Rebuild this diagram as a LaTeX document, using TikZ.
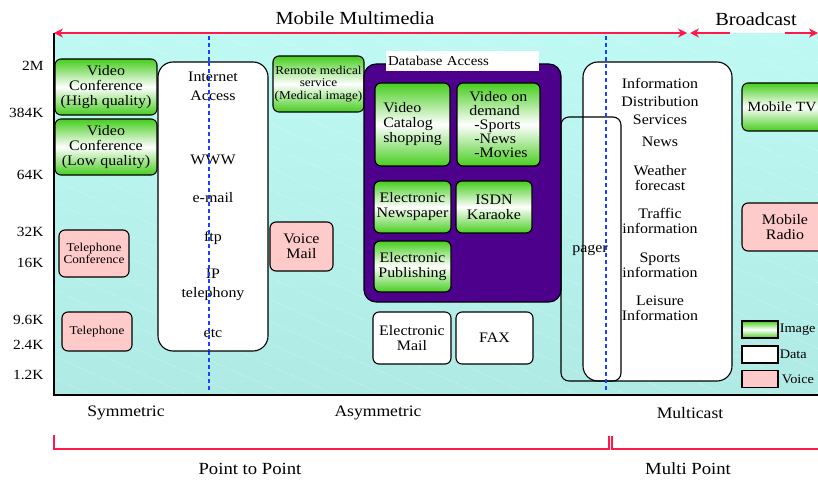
\documentclass[tikz,border=0pt]{standalone}
\usepackage{fontspec}
\setmainfont{Liberation Serif}[FakeStretch=1.1]
\usepackage{tikz}
\usetikzlibrary{arrows.meta,shapes,calc}
\definecolor{bgcyan}{RGB}{190,249,244}
\definecolor{bgcyandk}{RGB}{176,234,228}
\definecolor{imggreen}{RGB}{70,205,30}
\definecolor{voicepink}{RGB}{255,202,202}
\definecolor{dbpurple}{RGB}{76,0,140}
\definecolor{arrred}{RGB}{255,25,75}
\definecolor{divblue}{RGB}{25,65,255}
\newcommand\titlefnt{\fontsize{18.5}{20}\selectfont}
\newcommand\boxfnt{\fontsize{14.5}{15}\selectfont}
\newcommand\smallfnt{\fontsize{12}{12.5}\selectfont}
\newcommand\axisfnt{\fontsize{14}{15}\selectfont}
\tikzset{
 svcbox/.style={draw,line width=1.1pt,rounded corners=6pt,align=center,inner sep=1pt,font=\boxfnt},
 imgbox/.style={svcbox,top color=imggreen,bottom color=imggreen,middle color=white},
 databox/.style={svcbox,fill=white},
 voicebox/.style={svcbox,fill=voicepink},
 keybox/.style={draw,line width=1.1pt,minimum width=36,minimum height=17,inner sep=0pt},
 redline/.style={arrred,line width=1.2pt},
 redtip/.style={-{Stealth[length=9pt,width=9pt]}},
 divider/.style={divblue,line width=1.3pt,dash pattern=on 4pt off 3pt},
 streak/.style={white,opacity=.45,line width=.5pt,dash pattern=on 1.5pt off 1.5pt},
}
\begin{document}
\begin{tikzpicture}[x=1pt,y=-1pt]
\useasboundingbox(0,0)rectangle(818,481);
\clip(0,0)rectangle(818,481);
%background panel
\fill[top color=bgcyan,bottom color=bgcyandk](54,34)rectangle(830,395);
\begin{scope}
\clip(54,34)rectangle(830,395);
\foreach \s in {-360,-338,...,380}{
\draw[streak](54,34+\s)--(830,384+\s);
}
\end{scope}
\draw[line width=1.4pt](54,33)--(54,395)--(830,395);
%top arrows
\coordinate(mmL)at(54,33);
\coordinate(mmR)at(687,33);
\coordinate(bcL)at(690,33);
\coordinate(bcgapL)at(730,33);
\coordinate(bcgapR)at(785,33);
\coordinate(bcR)at(818,33);
\draw[redline,{Stealth[length=9pt,width=9pt]}-{Stealth[length=9pt,width=9pt]}](mmL)--(mmR);
\draw[redline,{Stealth[length=9pt,width=9pt]}-](bcL)--(bcgapL);
\draw[redline,redtip](bcgapR)--(bcR);
\node[font=\titlefnt](mmtitle)at(355,18){Mobile Multimedia};
\node[font=\titlefnt](bctitle)at(756,19){Broadcast};
%rate axis
\foreach \r/\y [count=\i] in {2M/66,384K/113,64K/175,32K/232,16K/263,9.6K/320,2.4K/345,1.2K/375}{
\node[font=\axisfnt,anchor=east](rate\i)at(47,\y){\r};
}
%dividers
\draw[divider](209,36)--(209,391);
\draw[divider](606,36)--(606,391);
%symmetric
\node[imgbox,minimum width=102,minimum height=56](vchq)at(106,87){Video\\Conference\\(High quality)};
\node[imgbox,minimum width=102,minimum height=56](vclq)at(106,147){Video\\Conference\\(Low quality)};
\node[voicebox,font=\smallfnt,minimum width=70,minimum height=47](telconf)at(94,253.5){Telephone\\Conference};
\node[voicebox,font=\smallfnt,minimum width=70,minimum height=39](tel)at(97,331.5){Telephone};
\node[databox,rounded corners=15pt,minimum width=110,minimum height=289](inet)at(213,206.5){};
\foreach \t/\y [count=\i] in {Internet/77,Access/96,WWW/160,e-mail/198,ftp/238,IP/274,telephony/294,etc/333}{
\node[font=\boxfnt](inet\i)at(213,\y){\t};
}
\draw[divider](209,62)--(209,351);
%asymmetric
\node[imgbox,font=\smallfnt,minimum width=91,minimum height=56](remote)at(318.5,84){Remote medical\\service\\(Medical image)};
\node[voicebox,minimum width=63,minimum height=49](vmail)at(301.5,246.5){Voice\\Mail};
\node[draw,line width=1.1pt,fill=dbpurple,rounded corners=12pt,minimum width=197,minimum height=238](dbase)at(462.5,183){};
\node[fill=white,font=\fontsize{13.5}{15}\selectfont,minimum width=153,minimum height=20,inner sep=0pt,text width=149](dblabel)at(462.5,61){Database Access};
\node[imgbox,align=left,minimum width=75,minimum height=83](vcat)at(412.5,124.5){Video\\Catalog\\shopping};
\node[imgbox,align=left,font=\fontsize{14.5}{14}\selectfont,minimum width=83,minimum height=83](vod)at(498.5,124.5){Video on\\demand\\\hspace{5pt}-Sports\\\hspace{5pt}-News\\\hspace{5pt}-Movies};
\node[imgbox,minimum width=77,minimum height=52](enews)at(412.5,207){Electronic\\Newspaper};
\node[imgbox,minimum width=76,minimum height=52](isdn)at(494,207){ISDN\\Karaoke};
\node[imgbox,minimum width=77,minimum height=51](epub)at(412.5,266.5){Electronic\\Publishing};
\node[databox,minimum width=78,minimum height=52](email)at(412,338){Electronic\\Mail};
\node[databox,minimum width=77,minimum height=52](fax)at(494.5,338){FAX};
%multicast
\node[databox,rounded corners=15pt,minimum width=149,minimum height=319](info)at(657.5,221.5){};
\node[draw,line width=1.1pt,rounded corners=8pt,minimum width=60,minimum height=264](pager)at(591,249){};
\draw[divider](606,36)--(606,391);
\node[font=\boxfnt](pagertxt)at(590,250){pager};
\node[font=\boxfnt,align=center](infotitle)at(660,101){Information\\[3pt]Distribution\\[3pt]Services};
\node[font=\boxfnt](news)at(660,142){News};
\node[font=\boxfnt,align=center](weather)at(660,178.5){Weather\\forecast};
\node[font=\boxfnt,align=center](traffic)at(660,221){Traffic\\information};
\node[font=\boxfnt,align=center](sports)at(660,265){Sports\\information};
\node[font=\boxfnt,align=center](leisure)at(660,308){Leisure\\Information};
%broadcast
\node[imgbox,font=\fontsize{14}{15}\selectfont,minimum width=86,minimum height=48](mtv)at(785,107){};
\node[font=\fontsize{14}{15}\selectfont,inner sep=0pt](mtvtxt)at(782,107){Mobile TV};
\node[voicebox,minimum width=86,minimum height=48](mradio)at(785,227){Mobile\\Radio};
%legend
\node[keybox,top color=imggreen,bottom color=imggreen,middle color=white](imgkey)at(760,329.5){};
\node[keybox,fill=white](datakey)at(760,354.5){};
\node[keybox,fill=voicepink](voicekey)at(760,379){};
\node[font=\fontsize{13}{14}\selectfont,anchor=west,inner sep=1pt](imglbl)at(imgkey.east){Image};
\node[font=\fontsize{13}{14}\selectfont,anchor=west,inner sep=1pt](datalbl)at(datakey.east){Data};
\node[font=\fontsize{13}{14}\selectfont,anchor=west,inner sep=3pt](voicelbl)at(voicekey.east){Voice};
%bottom labels
\node[font=\fontsize{16}{18}\selectfont](symm)at(126,413){Symmetric};
\node[font=\fontsize{16}{18}\selectfont](asymm)at(378,413){Asymmetric};
\node[font=\fontsize{16}{18}\selectfont](mcast)at(690,413){Multicast};
\draw[redline](54,435)--(54,449)--(609,449)--(609,436);
\draw[redline](612,436)--(612,449)--(830,449);
\node[font=\fontsize{17}{19}\selectfont](p2p)at(250,469){Point to Point};
\node[font=\fontsize{17}{19}\selectfont](mpoint)at(688,469){Multi Point};
\end{tikzpicture}
\end{document}
